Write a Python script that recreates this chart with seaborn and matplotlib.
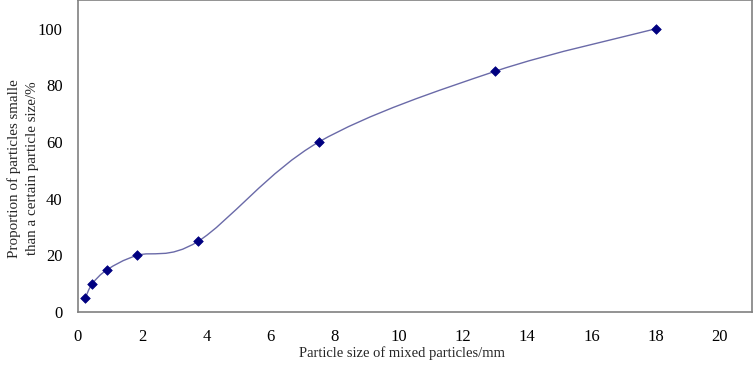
import numpy as np
import pandas as pd
import matplotlib
matplotlib.use("Agg")
import matplotlib.pyplot as plt
from matplotlib.path import Path
from matplotlib.patches import PathPatch
import seaborn as sns

particle_size = [0.23, 0.45, 0.92, 1.85, 3.75, 7.5, 13.0, 18.0]
passing_pct = [5, 10, 15, 20, 25, 60, 85, 100]

x_ticks = [0, 2, 4, 6, 8, 10, 12, 14, 16, 18, 20]
y_ticks = [0, 20, 40, 60, 80, 100]

sns.set_style("white")
plt.rcParams['font.family'] = ['Liberation Serif', 'DejaVu Serif']

df = pd.DataFrame({"size": particle_size, "pct": passing_pct})

fig = plt.figure(figsize=(7.54, 3.68), dpi=100)
ax = fig.add_axes([0.1034, 0.1522, 0.8939, 0.8465])

# smoothed line like excel (catmull-rom bezier through the points)
pts = df[["size", "pct"]].to_numpy(dtype=float)
verts = [tuple(pts[0])]
codes = [Path.MOVETO]
n = len(pts)
for i in range(n - 1):
    p0 = pts[i - 1] if i > 0 else pts[i]
    p1 = pts[i]
    p2 = pts[i + 1]
    p3 = pts[i + 2] if i + 2 < n else pts[i + 1]
    c1 = p1 + (p2 - p0) / 6.0
    c2 = p2 - (p3 - p1) / 6.0
    verts += [tuple(c1), tuple(c2), tuple(p2)]
    codes += [Path.CURVE4, Path.CURVE4, Path.CURVE4]
ax.add_patch(PathPatch(Path(verts, codes), facecolor="none",
                       edgecolor="#6a6aa8", lw=1.0, zorder=2))

sns.scatterplot(data=df, x="size", y="pct", marker="D", s=24,
                color="#000080", edgecolor="#000080", linewidth=0.5,
                ax=ax, zorder=3, legend=False)

ax.set_xlim(0, 21)
ax.set_ylim(0, 110)
ax.set_xticks(x_ticks)
ax.set_yticks(y_ticks)
ax.tick_params(axis="both", direction="in", length=4, width=0.8,
               color="#a0a0a0", labelsize=12, labelcolor="black")
ax.tick_params(axis="x", pad=12)
ax.tick_params(axis="y", pad=11)
for sp in ax.spines.values():
    sp.set_color("#808080")
    sp.set_linewidth(1.2)

ax.set_xlabel("Particle size of mixed particles/mm", fontsize=10.5)
ax.xaxis.set_label_coords(0.4815, -0.11)
ax.set_ylabel("Proportion of particles smalle\nthan a certain particle size/%",
              fontsize=10.8, linespacing=1.45)
ax.yaxis.set_label_coords(-0.058, 0.462)

fig.savefig("out.png", dpi=100)
